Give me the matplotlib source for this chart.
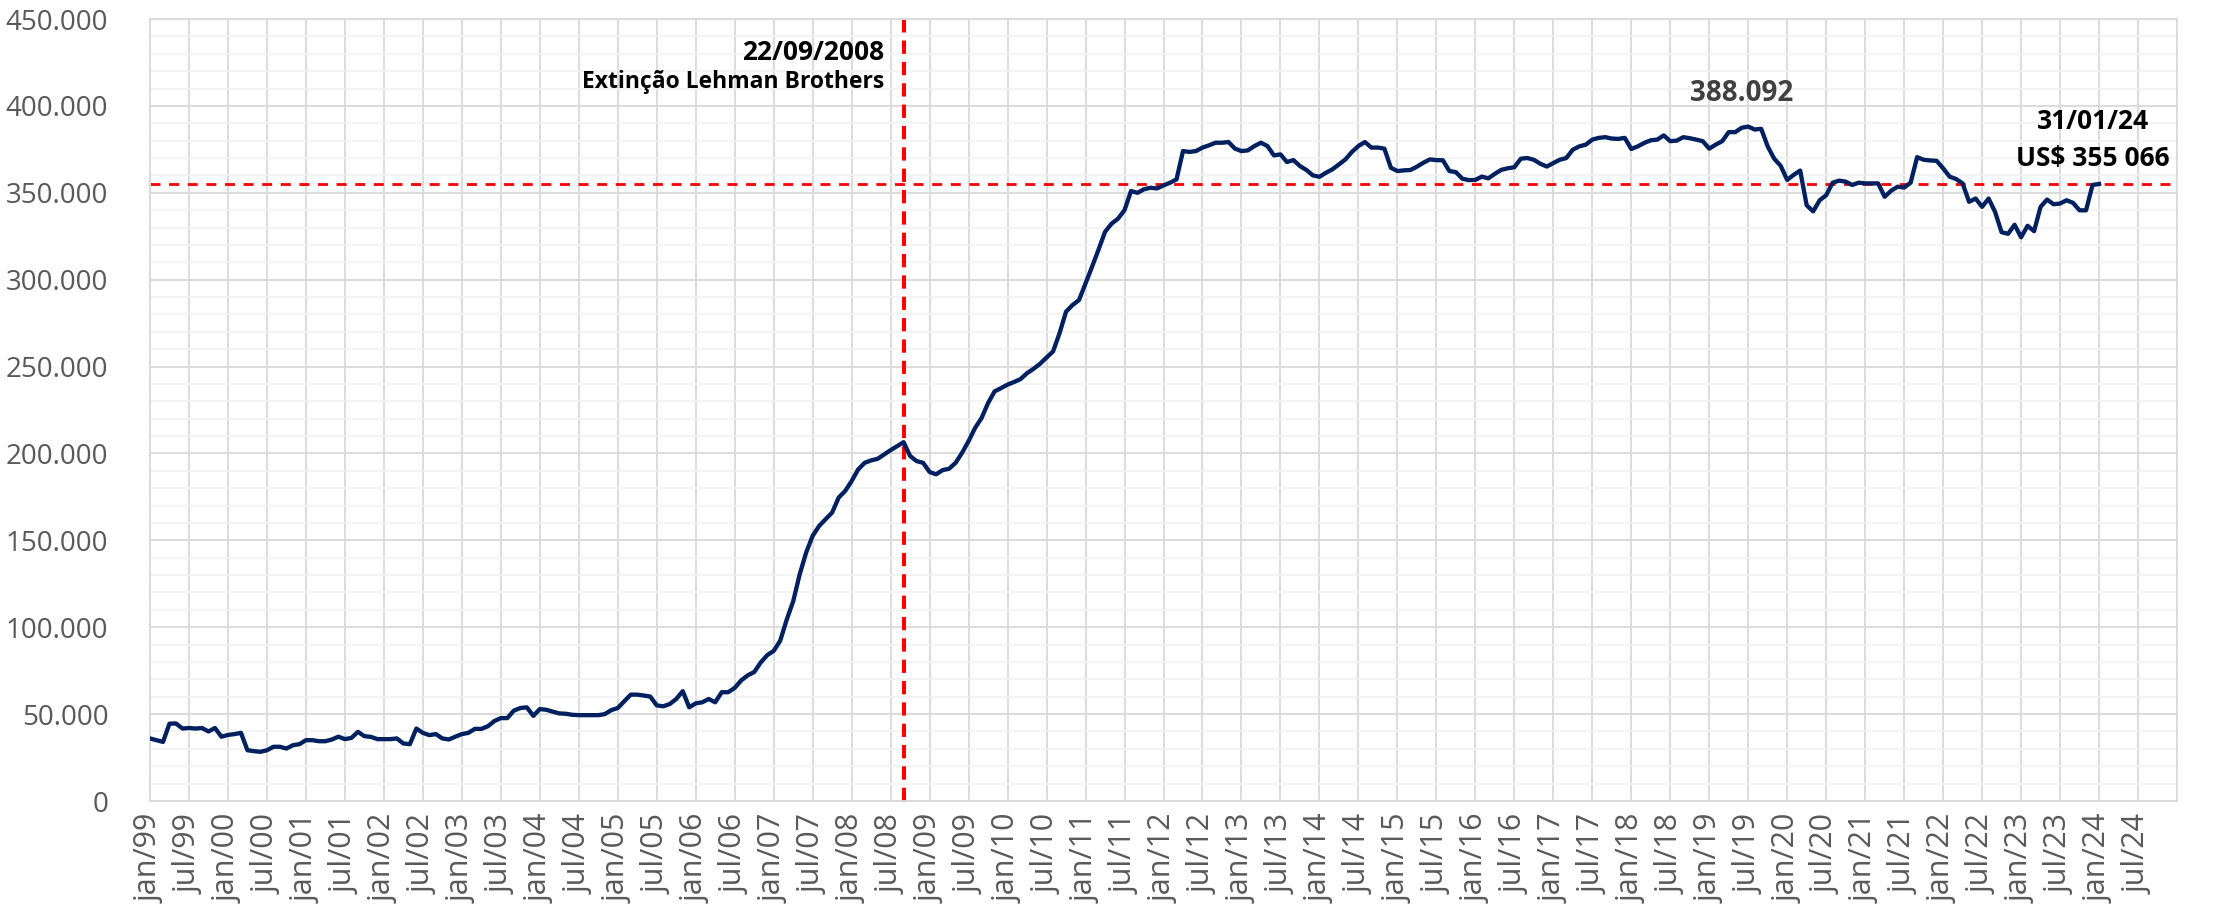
import matplotlib
matplotlib.use("Agg")
import matplotlib.pyplot as plt
from matplotlib.ticker import FuncFormatter, MultipleLocator
import numpy as np

# monthly values jan/99 .. jan/24 (US$ millions)
reserves = [
    36000, 35000, 34000, 44500, 44600, 41700, 42000, 41700, 42000, 40000, 42000, 37000,
    38000, 38500, 39200, 29200, 28700, 28300, 29200, 31200, 31200, 30200, 32100, 32700,
    35000, 35000, 34400, 34400, 35400, 37000, 35600, 36300, 39800, 37300, 36900, 35600,
    35600, 35600, 36000, 33100, 32700, 41700, 39200, 37900, 38500, 36000, 35400, 37000,
    38500, 39200, 41500, 41500, 43000, 46000, 47700, 47700, 52000, 53500, 53900, 49000,
    52900, 52500, 51400, 50400, 50200, 49600, 49400, 49400, 49400, 49400, 50000, 52300,
    53500, 57400, 61200, 61200, 60700, 60100, 55000, 54500, 55800, 58700, 63200, 53900,
    56200, 56800, 58700, 56800, 62600, 62600, 65100, 69400, 72300, 74200, 79700, 83900,
    86400, 92200, 104300, 114900, 130400, 143000, 152600, 158300, 162200, 166000, 174600, 178400,
    184100, 190800, 194600, 196000, 196900, 199400, 201900, 204200, 206500, 198500, 195600, 194600,
    189300, 188000, 190400, 191200, 194600, 200400, 207100, 214700, 220400, 229000, 235700, 237600,
    239600, 241100, 242800, 246200, 248700, 251600, 255200, 258700, 269200, 281600, 285400, 288300,
    297800, 307400, 317300, 327500, 332200, 335100, 340000, 351000, 350000, 352000, 352900, 352500,
    354200, 355800, 357700, 374000, 373500, 374000, 376000, 377300, 378800, 378800, 379200, 375400,
    374000, 374400, 376900, 378800, 376900, 371500, 372100, 367700, 368800, 365400, 363100, 360000,
    359200, 361500, 363500, 366300, 369200, 373500, 376900, 379200, 376000, 376000, 375400, 364400,
    362500, 362900, 363100, 365000, 367300, 369200, 368800, 368700, 362500, 361900, 358100, 357300,
    357400, 359300, 358300, 360900, 363200, 364100, 364700, 369600, 370000, 369000, 366700, 365100,
    367100, 369000, 370000, 374800, 376700, 377700, 380600, 381600, 382000, 381200, 381000, 381600,
    375200, 376700, 378700, 380200, 380600, 383000, 379700, 380000, 382000, 381400, 380600, 379700,
    375400, 377700, 379700, 384900, 384900, 387400, 388092, 386400, 386800, 376700, 369600, 365500,
    357400, 360300, 362800, 342800, 339300, 345700, 348600, 355800, 357000, 356400, 354500, 355800,
    355400, 355400, 355400, 347700, 351200, 353500, 353000, 355800, 370500, 369000, 368600, 368400,
    364100, 359300, 357900, 355400, 344800, 346700, 341900, 346700, 339000, 327300, 326400, 331600,
    324400, 331000, 327900, 341900, 346100, 343400, 343800, 345700, 344200, 339900, 339900, 354500,
    355066,
]
years = list(range(1999, 2025))
tick_labels = [f"{m}/{y % 100:02d}" for y in years for m in ("jan", "jul")]

lehman_idx = 116          # set/2008
lehman_date = "22/09/2008"
lehman_name = "Extinção Lehman Brothers"
last_value = 355066
last_text = "31/01/24\nUS$ 355 066"
peak_idx = 246
peak_text = "388.092"

months = np.arange(len(reserves))

fig = plt.figure(figsize=(22.13, 9.07), dpi=100)
ax = fig.add_axes([150/2213, 1 - 801/907, (2177-150)/2213, (801-19)/907])

ax.set_xlim(0, 312)
ax.set_ylim(0, 450000)
ax.set_xticks(np.arange(0, 312, 6))
ax.set_xticklabels(tick_labels, rotation=90, fontsize=22, color="#595959",
                   family="Open Sans")
ax.yaxis.set_major_locator(MultipleLocator(50000))
ax.yaxis.set_minor_locator(MultipleLocator(10000))
ax.yaxis.set_major_formatter(FuncFormatter(lambda v, p: f"{int(v):,}".replace(",", ".")))
for lab in ax.get_yticklabels():
    lab.set_family("Open Sans")
ax.tick_params(axis="y", labelsize=20, labelcolor="#595959", length=0, pad=30)
ax.tick_params(axis="x", length=0, pad=9)
ax.tick_params(which="minor", length=0)

ax.grid(True, which="minor", axis="y", color="#F2F2F2", lw=1.2, zorder=0)
ax.grid(True, which="major", axis="y", color="#D9D9D9", lw=1.3, zorder=0)
ax.grid(True, which="major", axis="x", color="#D9D9D9", lw=1.3, zorder=0)
for s in ax.spines.values():
    s.set_color("#D9D9D9")
    s.set_linewidth(1.3)

ax.axhline(last_value, color="#FF0000", lw=2, dashes=(3.6, 3.1), zorder=2)
ax.axvline(lehman_idx, color="#FF0000", lw=2.9, dashes=(3.3, 2.0), zorder=2)

ax.plot(months, reserves, color="#002060", lw=3.1, zorder=3, solid_joinstyle="round")

ax.text(lehman_idx - 3, 431000, lehman_date, ha="right", va="center", fontsize=19,
        fontweight="bold", family="Open Sans", color="black")
ax.text(lehman_idx - 3, 413500, lehman_name, ha="right", va="center", fontsize=16.5,
        fontweight="bold", family="Open Sans", color="black")
ax.text(peak_idx - 1, 399000, peak_text, ha="center", va="bottom", fontsize=20,
        fontweight="bold", family="Open Sans", color="#404040")
ax.text(299.1, 362000, last_text, ha="center", va="bottom", fontsize=19,
        fontweight="bold", family="Open Sans", color="black", linespacing=1.45)

fig.savefig("out.png", dpi=100)
